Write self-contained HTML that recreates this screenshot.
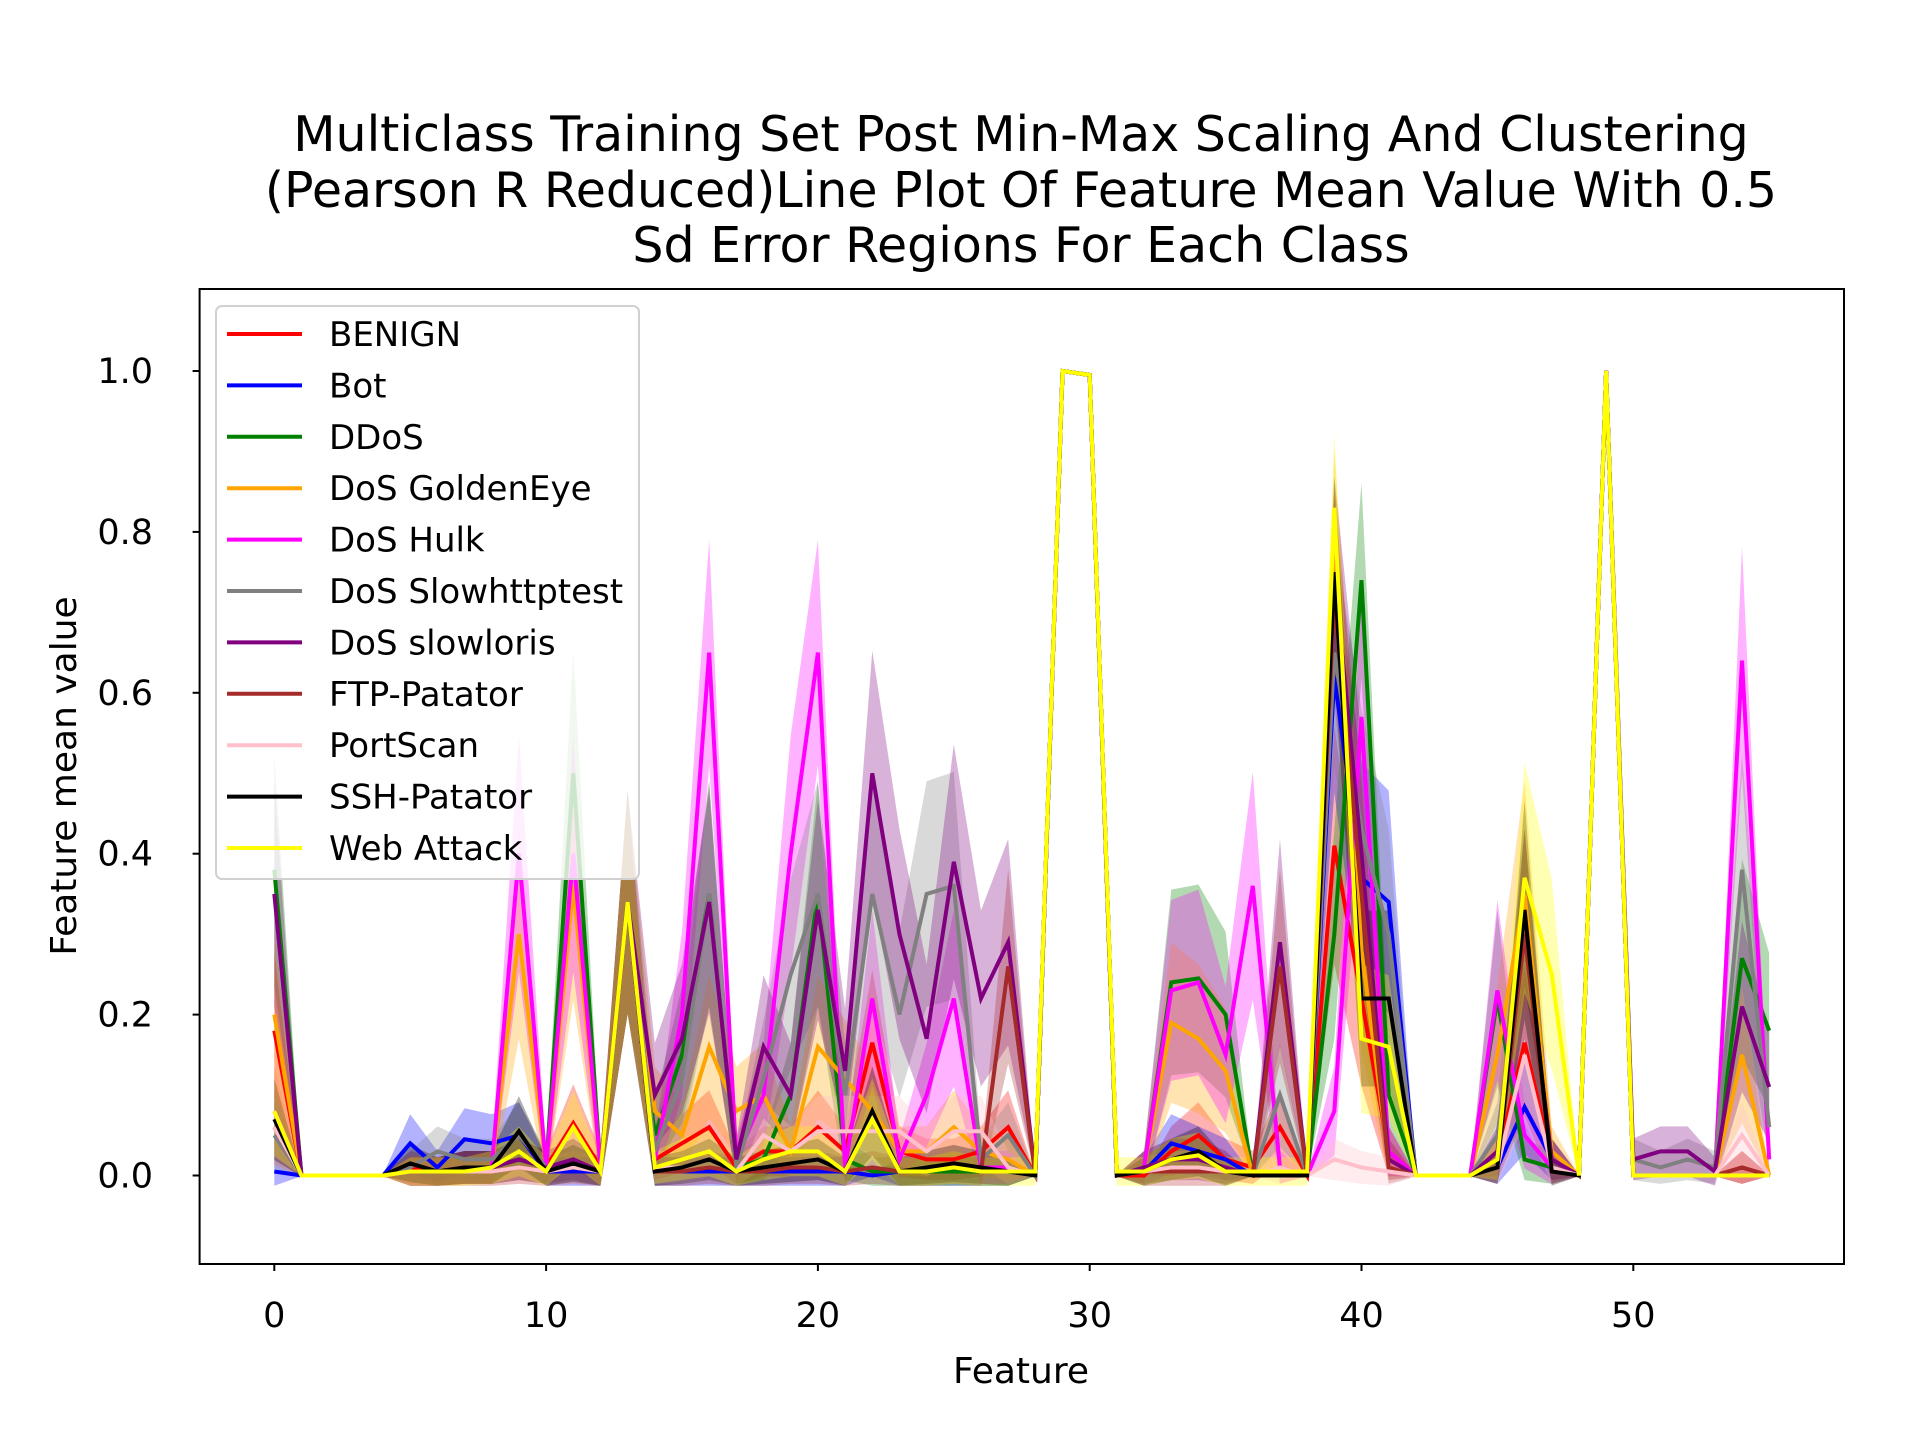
<!DOCTYPE html>
<html><head><meta charset="utf-8"><style>
html,body{margin:0;padding:0;background:#fff;}
svg{display:block;font-family:"DejaVu Sans","Liberation Sans",sans-serif;}
</style></head><body>
<svg id="chart" width="1920" height="1440" viewBox="0 0 1920 1440" xmlns="http://www.w3.org/2000/svg">
<defs><clipPath id="plotclip"><rect x="199.6" y="289" width="1644.4" height="975"/></clipPath></defs>
<rect width="1920" height="1440" fill="#fff"/>
<g id="title" font-size="49" text-anchor="middle" fill="#000">
<text x="1021" y="151">Multiclass Training Set Post Min-Max Scaling And Clustering</text>
<text x="1021" y="207">(Pearson R Reduced)Line Plot Of Feature Mean Value With 0.5</text>
<text x="1021" y="262">Sd Error Regions For Each Class</text>
</g>
<g id="bands" clip-path="url(#plotclip)"></g>
<g id="lines" clip-path="url(#plotclip)"></g>
<rect x="199.6" y="289" width="1644.4" height="975" fill="none" stroke="#000" stroke-width="2"/>
<g id="xticks"></g>
<g id="yticks"></g>
<text x="1021" y="1383" font-size="36" text-anchor="middle">Feature</text>
<text transform="translate(76,776) rotate(-90)" font-size="36" text-anchor="middle">Feature mean value</text>
<g id="legend"></g>
</svg>
<script>
const names = ["BENIGN","Bot","DDoS","DoS GoldenEye","DoS Hulk","DoS Slowhttptest","DoS slowloris","FTP-Patator","PortScan","SSH-Patator","Web Attack"];
const colors = ["#ff0000","#0000ff","#008000","#ffa500","#ff00ff","#808080","#800080","#a52a2a","#ffc0cb","#000000","#ffff00"];
const xTicks = [0,10,20,30,40,50];
const yTicks = [0.0,0.2,0.4,0.6,0.8,1.0];
const benign = [0.18,0,0,0,0,0.01,0.005,0.01,0.01,0.02,0.01,0.065,0.01,0.34,0.02,0.04,0.06,0.01,0.03,0.03,0.06,0.03,0.165,0.03,0.02,0.02,0.03,0.06,0,1,0.995,0,0,0.03,0.05,0.02,0.01,0.06,0,0.41,0.22,0.03,0,0,0,0.02,0.165,0.02,0,1,0,0,0,0,0.01,0];
const bot = [0.005,0,0,0,0,0.04,0.01,0.045,0.04,0.05,0.005,0.005,0.005,0.34,0.005,0.005,0.005,0.005,0.005,0.005,0.005,0.005,0,0.005,0.005,0.005,0.005,0.005,0,1,0.995,0,0.005,0.04,0.03,0.02,0,0,0,0.62,0.37,0.34,0,0,0,0.01,0.085,0.02,0,1,0,0,0,0,0,0];
const ddos = [0.38,0,0,0,0,0.005,0.005,0.01,0.01,0.02,0.01,0.5,0.01,0.34,0.05,0.15,0.35,0.01,0.02,0.1,0.35,0.02,0.005,0.005,0.005,0.005,0.005,0.005,0,1,0.995,0,0.01,0.24,0.245,0.2,0,0,0,0.3,0.74,0.1,0,0,0,0.22,0.02,0.01,0,1,0,0,0,0,0.27,0.18];
const goldeneye = [0.2,0,0,0,0,0.005,0.005,0.01,0.01,0.3,0.01,0.36,0.01,0.34,0.08,0.05,0.16,0.08,0.1,0.03,0.16,0.12,0.08,0.03,0.03,0.06,0.03,0.02,0,1,0.995,0,0.01,0.19,0.17,0.13,0,0,0,0.8,0.28,0.02,0,0,0,0.15,0.35,0.03,0,1,0,0,0,0,0.15,0];
const hulk = [0.08,0,0,0,0,0.005,0.005,0.01,0.01,0.4,0.01,0.4,0.01,0.34,0.02,0.2,0.65,0.02,0.1,0.4,0.65,0.01,0.22,0.02,0.1,0.22,0.01,0.01,0,1,0.995,0,0.01,0.23,0.24,0.15,0.36,0.01,0,0.08,0.57,0.03,0,0,0,0.23,0.05,0.01,0,1,0,0,0,0,0.64,0.02];
const slowhttp = [0.05,0,0,0,0,0.01,0.03,0.02,0.02,0.05,0.01,0.02,0.005,0.34,0.03,0.12,0.35,0.01,0.12,0.25,0.35,0.1,0.35,0.2,0.35,0.36,0.02,0.05,0,1,0.995,0,0.01,0.02,0.02,0.01,0,0.1,0,0.65,0.43,0.3,0,0,0,0.05,0.3,0.02,0,1,0.02,0.01,0.02,0.01,0.38,0.06];
const slowloris = [0.35,0,0,0,0,0.005,0.005,0.01,0.01,0.02,0.01,0.02,0.005,0.34,0.1,0.17,0.34,0.02,0.16,0.1,0.33,0.13,0.5,0.3,0.17,0.39,0.22,0.29,0,1,0.995,0,0.01,0.02,0.02,0.01,0,0.29,0,0.75,0.4,0.02,0,0,0,0.03,0.3,0.02,0,1,0.02,0.03,0.03,0.005,0.21,0.11];
const ftp = [0.06,0,0,0,0,0.005,0.005,0.005,0.005,0.01,0.005,0.01,0.005,0.34,0.005,0.005,0.01,0.005,0.005,0.01,0.01,0.005,0.01,0.005,0.005,0.01,0.005,0.26,0,1,0.995,0,0.005,0.005,0.005,0.005,0,0.26,0,0.72,0.35,0.01,0,0,0,0.01,0.3,0.01,0,1,0,0,0,0,0.01,0];
const portscan = [0.06,0,0,0,0,0.005,0.005,0.005,0.005,0.01,0.005,0.01,0.005,0.34,0.01,0.01,0.02,0.005,0.05,0.03,0.055,0.055,0.055,0.055,0.03,0.055,0.055,0.01,0,1,0.995,0,0.005,0.01,0.01,0.005,0,0.01,0,0.02,0.01,0.005,0,0,0,0.01,0.15,0.01,0,1,0,0,0,0,0.05,0];
const ssh = [0.07,0,0,0,0,0.015,0.005,0.01,0.01,0.055,0.005,0.015,0.005,0.34,0.005,0.01,0.02,0.005,0.01,0.015,0.02,0.005,0.08,0.005,0.01,0.015,0.01,0.005,0,1,0.995,0,0.005,0.02,0.03,0.005,0,0,0,0.75,0.22,0.22,0,0,0,0.01,0.33,0.005,0,1,0,0,0,0,0,0];
const webattack = [0.08,0,0,0,0,0.005,0.005,0.005,0.01,0.03,0.005,0.06,0.005,0.34,0.01,0.02,0.03,0.005,0.02,0.03,0.03,0.005,0.07,0.005,0.005,0.01,0.005,0.005,0.005,1,0.995,0.005,0.005,0.02,0.025,0.005,0.005,0.005,0.005,0.83,0.17,0.16,0,0,0,0.02,0.37,0.25,0,1,0,0,0,0,0,0];
const series = [benign,bot,ddos,goldeneye,hulk,slowhttp,slowloris,ftp,portscan,ssh,webattack];

const NS="http://www.w3.org/2000/svg";
function xs(v){return 274.3+v*27.18;}
function ys(v){return 1175.5-v*804.5;}
function half(v){return v>0.001 && v<0.99 ? 0.55*v*(1-v)+0.015 : 0.001;}
function mk(tag,attrs,parent){const e=document.createElementNS(NS,tag);for(const k in attrs)e.setAttribute(k,attrs[k]);parent.appendChild(e);return e;}
const bandsG=document.getElementById('bands'),linesG=document.getElementById('lines');
series.forEach((s,i)=>{
  const up=s.map((v,j)=>xs(j)+','+ys(v+half(v))).join(' ');
  const dn=s.map((v,j)=>xs(j)+','+ys(v-half(v))).reverse().join(' ');
  const b=mk('polygon',{points:up+' '+dn,fill:colors[i],'fill-opacity':0.3,stroke:'none'},bandsG);
  
  
});
series.forEach((s,i)=>{
  const l=mk('polyline',{points:s.map((v,j)=>xs(j)+','+ys(v)).join(' '),fill:'none',stroke:colors[i],'stroke-width':4,'stroke-linejoin':'miter'},linesG);
  
  
});
const xg=document.getElementById('xticks');
xTicks.forEach(t=>{
  const x=xs(t);
  const tk=mk('line',{x1:x,x2:x,y1:1264,y2:1271,stroke:'#000','stroke-width':2},xg);
  
  
  const tx=mk('text',{x:x,y:1327,'font-size':35,'text-anchor':'middle'},xg);tx.textContent=t;
  
  
});
const yg=document.getElementById('yticks');
yTicks.forEach(t=>{
  const y=ys(t);
  const tk=mk('line',{x1:192.6,x2:199.6,y1:y,y2:y,stroke:'#000','stroke-width':2},yg);
  
  
  const tx=mk('text',{x:153,y:y+12,'font-size':35,'text-anchor':'end'},yg);tx.textContent=t.toFixed(1);
  
  
});
const lg=document.getElementById('legend');
const box=mk('rect',{x:216,y:306,width:423,height:573,rx:6,fill:'#fff','fill-opacity':0.8,stroke:'#d0d0d0','stroke-width':2},lg);


names.forEach((n,i)=>{
  const y=334+i*51.4;
  const g=mk('g',{},lg);
  
  
  mk('line',{x1:227,x2:302,y1:y,y2:y,stroke:colors[i],'stroke-width':4},g);
  const t=mk('text',{x:329,y:y+12,'font-size':34},g);t.textContent=n;
});
</script>
</body></html>
